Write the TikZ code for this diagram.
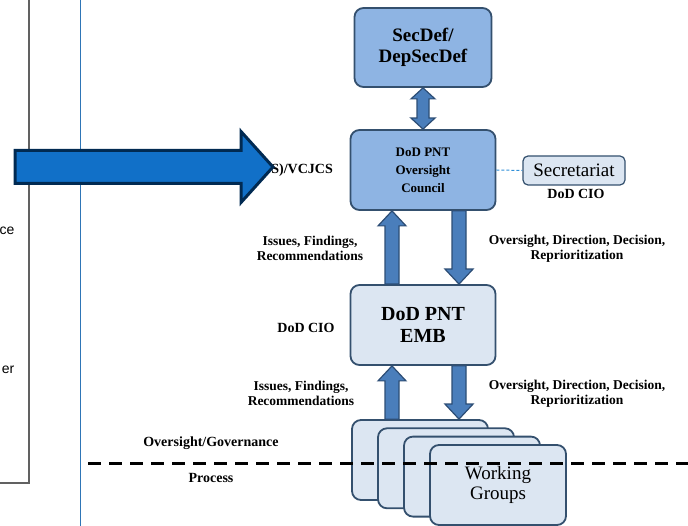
\documentclass[tikz,border=0pt]{standalone}
\usepackage{fontspec}
\setmainfont{Liberation Serif}
\newfontfamily\sidefont{Liberation Sans}
\usetikzlibrary{calc}

\definecolor{boxline}{HTML}{34506E}
\definecolor{boxdark}{HTML}{8EB4E3}
\definecolor{boxlight}{HTML}{DCE6F2}
\definecolor{arrfill}{HTML}{4A7EBB}
\definecolor{arrline}{HTML}{2C4D75}
\definecolor{bigfill}{HTML}{1170C8}
\definecolor{bigline}{HTML}{012A52}
\definecolor{sideline}{HTML}{2E75B6}
\definecolor{secline}{HTML}{2F8FD8}

% block arrow with shaft starting at #1 and tip at #2
\newcommand{\blockarrow}[2]{%
  \coordinate (hb) at ($#2!15pt!#1$);
  \filldraw[arrfill, draw=arrline, line width=1.2]
    ($#1!7pt!90:#2$) -- ($(hb)!7pt!90:#2$) -- ($(hb)!14pt!90:#2$) -- #2
    -- ($(hb)!14pt!-90:#2$) -- ($(hb)!7pt!-90:#2$) -- ($#1!7pt!-90:#2$) -- cycle;}

\tikzset{
  darkbox/.style={draw=boxline, fill=boxdark, line width=1.8, rounded corners=9,
    align=center, font=\bfseries},
  lightbox/.style={draw=boxline, fill=boxlight, line width=1.8, rounded corners=9,
    align=center},
  lbl/.style={align=center, inner sep=0, font=\bfseries\fontsize{13.5}{15}\selectfont}
}

\begin{document}
\begin{tikzpicture}[x=1pt, y=-1pt]
  \useasboundingbox (0,0) rectangle (688,526);

  % side panel and divider
  \draw[color=black!62, line width=1.5] (29,-2) -- (29,483) -- (-2,483);
  \draw[sideline, line width=1] (80,-2) -- (80,528);
  \node[anchor=east, inner sep=0, font=\sidefont\fontsize{14}{16}\selectfont] (cetxt) at (14.5,231) {ce};
  \node[anchor=east, inner sep=0, font=\sidefont\fontsize{14}{16}\selectfont] (ertxt) at (14.5,370) {er};

  % boxes
  \node[darkbox, minimum width=137, minimum height=79, font=\bfseries\fontsize{19}{21}\selectfont]
    (sec) at (423,47.5) {SecDef/\\DepSecDef};
  \node[darkbox, minimum width=145, minimum height=80, font=\bfseries\fontsize{13}{18}\selectfont]
    (council) at (423,170) {DoD PNT\\Oversight\\Council};
  \node[lightbox, minimum width=145, minimum height=80, font=\bfseries\fontsize{20}{22}\selectfont]
    (emb) at (423,325) {DoD PNT\\EMB};
  \node[lightbox, line width=1.2, rounded corners=5, minimum width=102, minimum height=29,
    inner sep=0, font=\fontsize{19}{21}\selectfont] (secr) at (574,170.5) {Secretariat};

  % stacked working groups
  \foreach \i in {1,2,3}
    \node[lightbox, minimum width=136, minimum height=80] (wg\i) at (420+26*\i-26,460+8.3*\i-8.3) {};
  \node[lightbox, minimum width=136, minimum height=80, font=\fontsize{19}{20}\selectfont]
    (wg4) at (498,485) {Working\\Groups};

  % arrows
  \coordinate (upx) at (392,0);
  \coordinate (dnx) at (459,0);
  \filldraw[arrfill, draw=arrline, line width=1.2] let \p1=(sec.south), \p2=(council.north) in
    (\p1) -- (\x1+12pt,\y1-11pt) -- (\x1+6pt,\y1-11pt) -- (\x2+6pt,\y2+11pt)
    -- (\x2+12pt,\y2+11pt) -- (\p2) -- (\x2-12pt,\y2+11pt) -- (\x2-6pt,\y2+11pt)
    -- (\x1-6pt,\y1-11pt) -- (\x1-12pt,\y1-11pt) -- cycle;
  \blockarrow{(emb.north -| upx)}{(council.south -| upx)}
  \blockarrow{(council.south -| dnx)}{(emb.north -| dnx)}
  \blockarrow{(wg1.north -| upx)}{(emb.south -| upx)}
  \blockarrow{(emb.south -| dnx)}{(wg1.north -| dnx)}
  \draw[secline, line width=1, dash pattern=on 3pt off 2pt] (council.east) -- (secr.west);

  % labels
  \node[lbl, font=\bfseries\fontsize{14}{16}\selectfont] (cio1) at (576,194) {DoD CIO};
  \node[lbl, font=\bfseries\fontsize{14}{16}\selectfont] (cio2) at (306,328) {DoD CIO};
  \node[lbl] (iss1) at (310,248.5) {Issues, Findings,\\Recommendations};
  \node[lbl] (ovs1) at (577,248.5) {Oversight, Direction, Decision,\\Reprioritization};
  \node[lbl] (iss2) at (301,393.5) {Issues, Findings,\\Recommendations};
  \node[lbl] (ovs2) at (577,394) {Oversight, Direction, Decision,\\Reprioritization};
  \node[lbl, font=\bfseries\fontsize{14}{16}\selectfont] (gov) at (211,443) {Oversight/Governance};
  \node[lbl, font=\bfseries\fontsize{14}{16}\selectfont] (proc) at (211,478) {Process};
  \node[anchor=east, inner sep=0, font=\bfseries\fontsize{14}{16}\selectfont] (vcjcs) at (333,170) {S)/VCJCS};

  % process line
  \draw[black, line width=3, dash pattern=on 13pt off 8pt] (88,463) -- (690,463);

  % pointer arrow
  \filldraw[fill=bigfill, draw=bigline, line width=3]
    (15,150.5) -- (241,150.5) -- (241,131.5) -- (273,167) -- (241,202.5) -- (241,183.5) -- (15,183.5) -- cycle;
\end{tikzpicture}
\end{document}
